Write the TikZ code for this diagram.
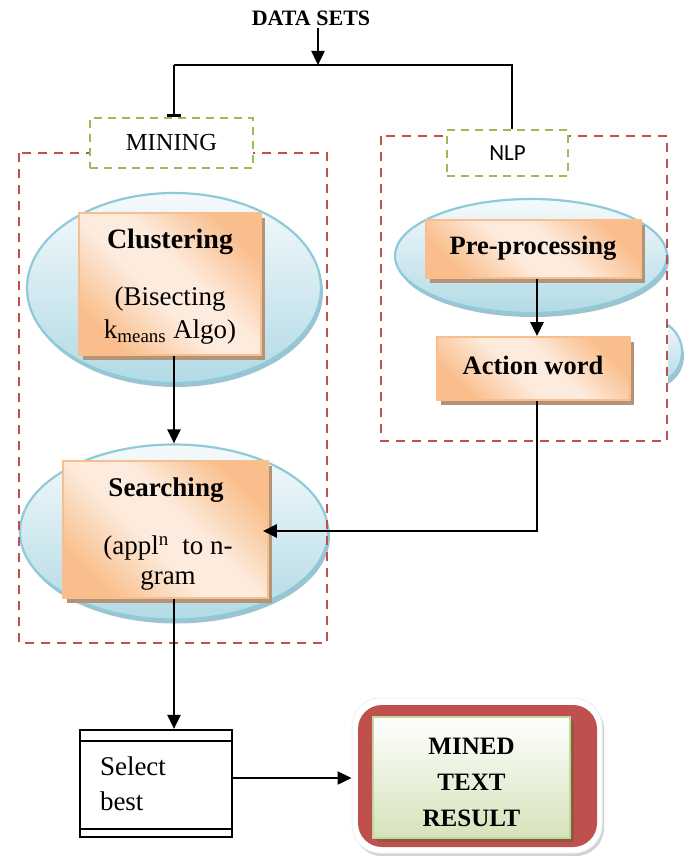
\documentclass[tikz,border=0pt]{standalone}
\usepackage{fontspec}
\setmainfont{Liberation Serif}
\newfontfamily\calibri{Carlito}
\usetikzlibrary{arrows.meta,shapes.geometric,shadings,shadows}

\definecolor{redline}{HTML}{C0504D}
\definecolor{greenline}{HTML}{9BBB59}
\definecolor{blueedge}{HTML}{8FCADB}
\definecolor{bluetop}{HTML}{F5FAFC}
\definecolor{bluebot}{HTML}{B2DAE5}
\definecolor{blueshadow}{HTML}{9EC3CE}
\definecolor{orangedeep}{HTML}{F9BE8C}
\definecolor{orangelight}{HTML}{FDEBDD}
\definecolor{orangeedge}{HTML}{F8BE8E}
\definecolor{boxshadow}{HTML}{B39479}
\definecolor{greenbot}{HTML}{D5E3BA}
\definecolor{greenedge}{HTML}{C3D69B}
\definecolor{brownshadow}{HTML}{8C5A3C}

% diagonal orange sweep used by the process boxes
\pgfdeclarehorizontalshading{orangesweep}{100bp}{color(0bp)=(orangedeep); color(25bp)=(orangedeep); color(44bp)=(orangelight); color(56bp)=(orangelight); color(75bp)=(orangedeep); color(100bp)=(orangedeep)}

\tikzset{
  oval/.style={ellipse, draw=blueedge, line width=2.2pt, top color=bluetop, bottom color=bluebot, inner sep=0pt,
    drop shadow={shadow xshift=2pt, shadow yshift=-4pt, fill=blueshadow, opacity=1}},
  procbox/.style={rectangle, draw=orangeedge, line width=1.8pt, shade, shading=orangesweep, shading angle=45, inner sep=0pt,
    drop shadow={shadow xshift=4pt, shadow yshift=-5pt, fill=boxshadow, opacity=1}},
  region/.style={draw=redline, line width=2.3pt, dash pattern=on 9pt off 7pt},
  tag/.style={rectangle, draw=greenline, fill=white, line width=2.3pt, dash pattern=on 8pt off 6pt, inner sep=0pt},
  plain/.style={line width=2.4pt},
  flow/.style={line width=2.4pt, -{Triangle[length=14pt,width=13pt]}},
  boldtext/.style={font=\fontsize{27}{32}\selectfont\bfseries, inner sep=0pt},
  bodytext/.style={font=\fontsize{27}{33}\selectfont, align=center, inner sep=0pt}
}

\begin{document}
\begin{tikzpicture}[x=1pt, y=-1pt]
\useasboundingbox (0,0) rectangle (684,856);

% ---- ovals ----
\node[oval, minimum width=294, minimum height=190] (cloval) at (174,288) {};
\node[oval, minimum width=308, minimum height=175] (sroval) at (174,532) {};
\node[oval, minimum width=272, minimum height=114] (preoval) at (531,256) {};
\begin{scope}
  \clip (668,300) rectangle (684,400);
  \node[oval, minimum width=62, minimum height=64] (actoval) at (651,352) {};
\end{scope}

% ---- process boxes ----
\node[procbox, minimum width=182, minimum height=142] (clbox) at (170,284) {};
\node[procbox, minimum width=205, minimum height=137] (srbox) at (165.5,529.5) {};
\node[procbox, minimum width=215, minimum height=58] (prebox) at (533.5,249) {};
\node[procbox, minimum width=193, minimum height=63] (actbox) at (533.5,368.5) {};

\node[boldtext, font=\fontsize{28}{32}\selectfont\bfseries] (cltitle) at (170,242) {Clustering};
\node[bodytext] (clnote) at (170,316) {(Bisecting\\k\textsubscript{means} Algo)};
\node[boldtext] (srtitle) at (166,490) {Searching};
\node[bodytext, font=\fontsize{27}{30}\selectfont] (srnote) at (168,563) {(appl\textsuperscript{n}\ \ to n-\\gram};
\node[boldtext, font=\fontsize{26.5}{30}\selectfont\bfseries] (pretitle) at (533,248) {Pre-processing};
\node[boldtext, font=\fontsize{26.5}{30}\selectfont\bfseries] (acttitle) at (533,365) {Action word};

% ---- dashed regions ----
\draw[region] (19,153) rectangle (327,643);
\draw[region] (381,136) rectangle (667,441);
\node[tag, minimum width=163, minimum height=50, font=\fontsize{24.5}{28}\selectfont] (mining) at (171.5,143) {MINING};
\node[tag, minimum width=121, minimum height=46, font=\calibri\fontsize{23}{26}\selectfont] (nlp) at (507.5,153) {NLP};

% ---- data sets and split ----
\node[font=\fontsize{22}{26}\selectfont\bfseries, inner sep=2pt] (datasets) at (311,18) {DATA SETS};
\coordinate (split) at (318,65);
\coordinate (lft) at (174,65);
\coordinate (rgt) at (512,65);

% ---- select best ----
\node[draw, line width=2.2pt, minimum width=152, minimum height=107, text width=112, inner xsep=20pt, inner ysep=0pt,
      align=left, font=\fontsize{27}{35}\selectfont] (select) at (156,783.5) {Select\\best};
\draw[line width=2.2pt] ([yshift=-12pt]select.north west) -- ([yshift=-12pt]select.north east);
\draw[line width=2.2pt] ([yshift=9pt]select.south west) -- ([yshift=9pt]select.south east);

% ---- result ----
\node[rectangle, rounded corners=28pt, fill=white, draw=gray!12, line width=1pt, minimum width=250, minimum height=155,
      drop shadow={shadow xshift=2pt, shadow yshift=-3pt, fill=gray!35, opacity=1}] (frame) at (477,775.5) {};
\node[rectangle, rounded corners=24pt, fill=redline, minimum width=239, minimum height=142] (redpad) at (477.5,776) {};
\node[rectangle, draw=greenedge, line width=2pt, top color=white, bottom color=greenbot, minimum width=197, minimum height=121,
      drop shadow={shadow xshift=4pt, shadow yshift=-4pt, fill=brownshadow, opacity=1}] (result) at (471.5,777.5) {};
\node[font=\fontsize{25}{36}\selectfont\bfseries, align=center, inner sep=0pt] (restext) at (471.5,782) {MINED\\TEXT\\RESULT};

% ---- connectors ----
\draw[flow] (datasets.south -| split) -- (split);
\draw[plain, -{Bar[width=14pt]}] (lft) -- (lft |- mining.north);
\draw[plain] (lft) -- (rgt) -- (rgt |- nlp.north);
\draw[flow] (clbox.south -| cloval.center) -- (sroval.north);
\draw[flow] ([xshift=3.5pt]prebox.south) -- ([xshift=3.5pt]actbox.north);
\coordinate (turn) at (537,531);
\draw[flow] ([xshift=3.5pt]actbox.south) -- (turn) -- ([xshift=-6pt]srbox.east |- turn);
\draw[flow] (srbox.south -| sroval.center) -- (select.north -| sroval.center);
\draw[flow] ([yshift=5.5pt]select.east) -- ([yshift=5.5pt]select.east -| frame.west);
\end{tikzpicture}
\end{document}
